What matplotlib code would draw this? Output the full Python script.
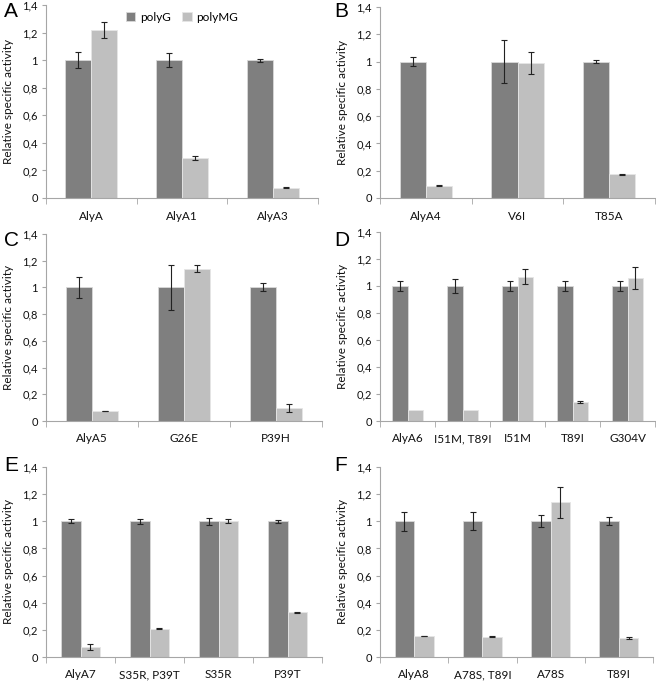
import matplotlib
matplotlib.use("Agg")
import matplotlib.pyplot as plt
import numpy as np

plt.rcParams['font.family'] = ['Lato', 'DejaVu Sans']

W, H = 656, 682

# ---- data ----
cats_A = ["AlyA", "AlyA1", "AlyA3"]
polyG_A = [1.0, 1.0, 1.0]
polyG_err_A = [0.06, 0.05, 0.01]
polyMG_A = [1.22, 0.29, 0.075]
polyMG_err_A = [0.06, 0.015, 0.003]

cats_B = ["AlyA4", "V6I", "T85A"]
polyG_B = [1.0, 1.0, 1.0]
polyG_err_B = [0.035, 0.16, 0.012]
polyMG_B = [0.09, 0.99, 0.175]
polyMG_err_B = [0.003, 0.08, 0.003]

cats_C = ["AlyA5", "G26E", "P39H"]
polyG_C = [1.0, 1.0, 1.0]
polyG_err_C = [0.08, 0.17, 0.03]
polyMG_C = [0.075, 1.14, 0.10]
polyMG_err_C = [0.003, 0.025, 0.03]

cats_D = ["AlyA6", "I51M, T89I", "I51M", "T89I", "G304V"]
polyG_D = [1.0, 1.0, 1.0, 1.0, 1.0]
polyG_err_D = [0.04, 0.055, 0.035, 0.035, 0.035]
polyMG_D = [0.085, 0.08, 1.07, 0.14, 1.06]
polyMG_err_D = [0.0, 0.0, 0.055, 0.008, 0.08]

cats_E = ["AlyA7", "S35R, P39T", "S35R", "P39T"]
polyG_E = [1.0, 1.0, 1.0, 1.0]
polyG_err_E = [0.015, 0.02, 0.025, 0.012]
polyMG_E = [0.075, 0.21, 1.005, 0.33]
polyMG_err_E = [0.02, 0.003, 0.015, 0.004]

cats_F = ["AlyA8", "A78S, T89I", "A78S", "T89I"]
polyG_F = [1.0, 1.0, 1.0, 1.0]
polyG_err_F = [0.07, 0.065, 0.045, 0.03]
polyMG_F = [0.155, 0.15, 1.14, 0.14]
polyMG_err_F = [0.003, 0.005, 0.115, 0.01]

yticks = [0, 0.2, 0.4, 0.6, 0.8, 1.0, 1.2, 1.4]
ytick_labels = ["0", "0,2", "0,4", "0,6", "0,8", "1", "1,2", "1,4"]
series_names = ["polyG", "polyMG"]

DARK = "#7f7f7f"
LIGHT = "#bfbfbf"
SPINE = "#a6a6a6"

fig = plt.figure(figsize=(W / 100, H / 100), dpi=100)


def rect(x0, yt, x1, yb):
    return [x0 / W, 1 - yb / H, (x1 - x0) / W, (yb - yt) / H]


def errs(xpos, vals, err, ax):
    xpos = np.asarray(xpos); vals = np.asarray(vals); err = np.asarray(err)
    m = err > 0
    if m.any():
        ax.errorbar(xpos[m], vals[m], yerr=err[m], fmt="none", ecolor="#222222",
                    elinewidth=0.8, capsize=2, capthick=0.8, zorder=3)


panels = [
    ("A", cats_A, polyG_A, polyG_err_A, polyMG_A, polyMG_err_A, (46, 5, 318, 198), (4, 2)),
    ("B", cats_B, polyG_B, polyG_err_B, polyMG_B, polyMG_err_B, (380, 7, 655, 198), (334, 2)),
    ("C", cats_C, polyG_C, polyG_err_C, polyMG_C, polyMG_err_C, (46, 234, 322, 421), (4, 231)),
    ("D", cats_D, polyG_D, polyG_err_D, polyMG_D, polyMG_err_D, (380, 232, 655, 421), (334, 231)),
    ("E", cats_E, polyG_E, polyG_err_E, polyMG_E, polyMG_err_E, (46, 467, 322, 657), (4, 456)),
    ("F", cats_F, polyG_F, polyG_err_F, polyMG_F, polyMG_err_F, (380, 467, 653, 657), (334, 456)),
]

w = 0.287
for letter, cats, g, ge, mg, mge, r, lp in panels:
    ax = fig.add_axes(rect(*r))
    n = len(cats)
    x = np.arange(n)
    b1 = ax.bar(x - w / 2, g, w, color=DARK, edgecolor="#d9d9d9", linewidth=0.6,
                label=series_names[0], zorder=2)
    b2 = ax.bar(x + w / 2, mg, w, color=LIGHT, edgecolor="#e6e6e6", linewidth=0.6,
                label=series_names[1], zorder=2)
    errs(x - w / 2, g, ge, ax)
    errs(x + w / 2, mg, mge, ax)
    ax.set_xlim(-0.5, n - 0.5)
    ax.set_ylim(0, 1.4)
    ax.set_yticks(yticks)
    ax.set_yticklabels(ytick_labels)
    ax.set_xticks(x)
    ax.set_xticklabels(cats)
    ax.set_xticks(np.arange(n + 1) - 0.5, minor=True)
    ax.tick_params(axis="x", which="major", length=0, pad=9, labelsize=8.5, colors="#111111")
    ax.tick_params(axis="x", which="minor", length=4, color=SPINE, direction="out")
    ax.tick_params(axis="y", length=3, color=SPINE, labelsize=8, pad=3, labelcolor="#111111")
    for s in ("top", "right"):
        ax.spines[s].set_visible(False)
    for s in ("left", "bottom"):
        ax.spines[s].set_color(SPINE)
        ax.spines[s].set_linewidth(0.8)
    ax.set_ylabel("Relative specific activity", fontsize=8.5, color="#111111", labelpad=6)
    fig.text(lp[0] / W, 1 - lp[1] / H, letter, fontsize=15, va="top", ha="left",
             family=["Liberation Sans", "DejaVu Sans"])
    if letter == "A":
        ax.legend(handles=[b1, b2], loc="upper center", bbox_to_anchor=(0.5, 1.02), ncol=2,
                  frameon=False, fontsize=8.5, handlelength=0.8, handleheight=0.8,
                  handletextpad=0.4, columnspacing=1.0)

fig.savefig("out.png", dpi=100)
